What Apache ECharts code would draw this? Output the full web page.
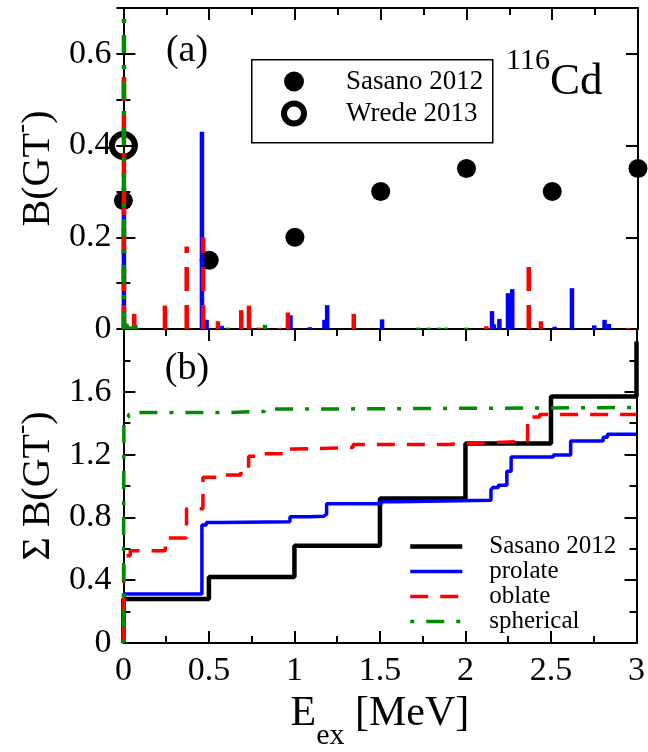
<!DOCTYPE html>
<html><head><meta charset="utf-8">
<script src="https://cdn.jsdelivr.net/npm/echarts@6/dist/echarts.min.js"></script>
<style>html,body{margin:0;padding:0;background:#fff}#c{width:648px;height:752px}</style>
</head><body><div id="c"></div>
<script>
// ---------- Panel (a): experimental B(GT-) ----------
const sasanoE = [0, 0.5, 1, 1.5, 2, 2.5, 3];
const sasanoB = [0.28, 0.15, 0.20, 0.30, 0.35, 0.30, 0.35];
const wredeE = [0];
const wredeB = [0.40];

// ---------- Panel (a): calculated B(GT-) strengths ----------
const prolateE = [0.003, 0.458, 0.485, 0.573, 0.974, 1.087, 1.172, 1.188, 1.508, 2.149, 2.160, 2.192, 2.242, 2.267, 2.514, 2.615, 2.745, 2.805, 2.830];
const prolateB = [0.31, 0.43, 0.02, 0.007, 0.03, 0.004, 0.02, 0.052, 0.021, 0.039, 0.01, 0.022, 0.078, 0.087, 0.005, 0.089, 0.008, 0.02, 0.011];
const oblateE = [0.003, 0.012, 0.063, 0.242, 0.369, 0.465, 0.551, 0.687, 0.732, 0.790, 0.910, 0.959, 1.343, 2.116, 2.363, 2.434, 2.945];
const oblateB = [0.556, 0.012, 0.033, 0.051, 0.18, 0.20, 0.017, 0.041, 0.051, 0.003, 0.002, 0.036, 0.033, 0.006, 0.135, 0.017, 0.002];
const sphericalE = [0.003, 0.02, 0.045, 0.07, 0.608, 0.825, 1.72, 1.78, 1.84, 1.88, 2.0];
const sphericalB = [1.44, 0.01, 0.006, 0.009, 0.003, 0.009, 0.003, 0.003, 0.003, 0.003, 0.003];

// ---------- Panel (b): cumulative sums (step points) ----------
const cumSasanoE = [0, 0, 0.5, 1, 1.5, 2, 2.5, 3];
const cumSasano  = [0, 0.28, 0.42, 0.62, 0.92, 1.27, 1.57, 1.92];
const cumProlateE = [0, 0.003, 0.459, 0.485, 0.573, 0.974, 1.087, 1.172, 1.188, 1.508, 1.60, 2.149, 2.16, 2.192, 2.242, 2.267, 2.514, 2.615, 2.805, 2.83, 3];
const cumProlate  = [0, 0.312, 0.752, 0.768, 0.772, 0.804, 0.808, 0.820, 0.887, 0.90, 0.91, 0.975, 0.99, 1.005, 1.094, 1.184, 1.198, 1.286, 1.31, 1.329, 1.329];
const cumOblateE = [0, 0.003, 0.04, 0.245, 0.369, 0.465, 0.551, 0.687, 0.732, 0.79, 0.959, 1.0, 1.343, 1.9, 2.116, 2.363, 2.434, 3];
const cumOblate  = [0, 0.556, 0.588, 0.669, 0.855, 1.055, 1.07, 1.10, 1.19, 1.205, 1.235, 1.245, 1.265, 1.275, 1.285, 1.44, 1.455, 1.455];
const cumSphericalE = [0, 0.003, 0.03, 0.07, 0.608, 0.825, 1.1, 3];
const cumSpherical  = [0, 1.44, 1.455, 1.468, 1.475, 1.49, 1.50, 1.50];

// ---------- Tick settings ----------
const xTicks = [0, 0.5, 1, 1.5, 2, 2.5, 3];
const yTicksA = [0, 0.2, 0.4, 0.6];
const yTicksB = [0, 0.4, 0.8, 1.2, 1.6];

const FONT = 'Liberation Serif';
const BLUE = '#0000ff', RED = '#ff0000', GREEN = '#008b00', BLACK = '#000000';
const AL = {color: '#000', width: 2};
const zip = (a, b) => a.map((v, i) => [v, b[i]]);

function barSeries(name, E, B, color, dash, z) {
  return {
    type: 'custom', name: name, xAxisIndex: 0, yAxisIndex: 0, z: z,
    data: zip(E, B),
    renderItem: function (params, api) {
      const p0 = api.coord([api.value(0), 0]);
      const p1 = api.coord([api.value(0), api.value(1)]);
      const top = params.coordSys.y;
      return {
        type: 'line',
        shape: {x1: p0[0], y1: p0[1], x2: p1[0], y2: Math.max(p1[1], top)},
        style: {stroke: color, lineWidth: 4.5, lineDash: dash, fill: null}
      };
    }
  };
}
function stepSeries(name, E, V, color, width, type) {
  return {
    type: 'line', name: name, xAxisIndex: 2, yAxisIndex: 4, step: 'end',
    symbol: 'none', showSymbol: false, clip: false,
    data: zip(E, V),
    lineStyle: {color: color, width: width, type: type},
    itemStyle: {color: color}
  };
}

const labelStyle = {color: '#000', fontFamily: FONT, fontSize: 34};
const yNameRich = {
  n: {fontFamily: FONT, fontSize: 40, lineHeight: 40, padding: [10, 0, 0, 0], verticalAlign: 'top', color: '#000'},
  sup: {fontFamily: FONT, fontSize: 28, lineHeight: 28, verticalAlign: 'top', color: '#000'}
};

const chart = echarts.init(document.getElementById('c'), null, {renderer: 'canvas'});
chart.setOption({
  animation: false,
  backgroundColor: '#fff',
  textStyle: {fontFamily: FONT, color: '#000'},
  grid: [
    {left: 122, right: 10, top: 8, height: 321},
    {left: 122, right: 10, top: 329, height: 322}
  ],
  xAxis: [
    {gridIndex: 0, type: 'value', min: xTicks[0], max: xTicks[xTicks.length - 1], interval: 0.5, position: 'bottom',
      axisLine: {show: true, onZero: false, lineStyle: AL}, axisTick: {show: false}, axisLabel: {show: false}, splitLine: {show: false}},
    {gridIndex: 0, type: 'value', min: xTicks[0], max: xTicks[xTicks.length - 1], interval: 0.5, position: 'top',
      axisLine: {show: true, onZero: false, lineStyle: AL},
      axisTick: {show: true, inside: true, length: 12, lineStyle: AL},
      minorTick: {show: true, splitNumber: 2, length: 7, lineStyle: AL},
      axisLabel: {show: false}, splitLine: {show: false}},
    {gridIndex: 1, type: 'value', min: xTicks[0], max: xTicks[xTicks.length - 1], interval: 0.5, position: 'bottom',
      axisLine: {show: true, onZero: false, lineStyle: AL},
      axisTick: {show: true, inside: true, length: 12, lineStyle: AL},
      minorTick: {show: true, splitNumber: 2, length: 7, lineStyle: AL},
      axisLabel: Object.assign({margin: 11}, labelStyle), splitLine: {show: false},
      name: '{n|E}{sub|ex}{n| [MeV]}', nameLocation: 'middle', nameGap: 50,
      nameTextStyle: {rich: {
        n: {fontFamily: FONT, fontSize: 42, lineHeight: 42, verticalAlign: 'top', color: '#000'},
        sub: {fontFamily: FONT, fontSize: 30, lineHeight: 30, padding: [28, 0, 0, 0], verticalAlign: 'top', color: '#000'}
      }}},
    {gridIndex: 1, type: 'value', min: xTicks[0], max: xTicks[xTicks.length - 1], interval: 0.5, position: 'top',
      axisLine: {show: true, onZero: false, lineStyle: AL},
      axisTick: {show: true, inside: true, length: 12, lineStyle: AL},
      minorTick: {show: true, splitNumber: 2, length: 7, lineStyle: AL},
      axisLabel: {show: false}, splitLine: {show: false}}
  ],
  yAxis: [
    {gridIndex: 0, type: 'value', min: yTicksA[0], max: 0.7, interval: 0.2, position: 'left',
      axisLine: {show: true, onZero: false, lineStyle: AL},
      axisTick: {show: true, inside: true, length: 12, lineStyle: AL},
      axisLabel: Object.assign({margin: 12, showMaxLabel: false}, labelStyle), splitLine: {show: false},
      name: '{n|B(GT}{sup|-}{n|)}', nameLocation: 'middle', nameRotate: 90, nameGap: 71,
      nameTextStyle: {rich: yNameRich}},
    {gridIndex: 0, type: 'value', min: 0, max: 0.7, interval: 0.1, position: 'left',
      axisLine: {show: false}, axisTick: {show: true, inside: true, length: 7, lineStyle: AL},
      axisLabel: {show: false}, splitLine: {show: false}},
    {gridIndex: 0, type: 'value', min: 0, max: 0.7, interval: 0.2, position: 'right',
      axisLine: {show: true, onZero: false, lineStyle: AL},
      axisTick: {show: true, inside: true, length: 12, lineStyle: AL},
      axisLabel: {show: false}, splitLine: {show: false}},
    {gridIndex: 0, type: 'value', min: 0, max: 0.7, interval: 0.1, position: 'right',
      axisLine: {show: false}, axisTick: {show: true, inside: true, length: 7, lineStyle: AL},
      axisLabel: {show: false}, splitLine: {show: false}},
    {gridIndex: 1, type: 'value', min: yTicksB[0], max: 2, interval: 0.4, position: 'left',
      axisLine: {show: true, onZero: false, lineStyle: AL},
      axisTick: {show: true, inside: true, length: 12, lineStyle: AL},
      minorTick: {show: true, splitNumber: 2, length: 7, lineStyle: AL},
      axisLabel: Object.assign({margin: 12, showMaxLabel: false}, labelStyle), splitLine: {show: false},
      name: '{n|Σ B(GT}{sup|-}{n|)}', nameLocation: 'middle', nameRotate: 90, nameGap: 71,
      nameTextStyle: {rich: yNameRich}},
    {gridIndex: 1, type: 'value', min: 0, max: 2, interval: 0.4, position: 'right',
      axisLine: {show: true, onZero: false, lineStyle: AL},
      axisTick: {show: true, inside: true, length: 12, lineStyle: AL},
      minorTick: {show: true, splitNumber: 2, length: 7, lineStyle: AL},
      axisLabel: {show: false}, splitLine: {show: false}}
  ],
  legend: [
    {data: [
        {name: 'Sasano 2012'},
        {name: 'Wrede 2013', itemStyle: {color: 'rgba(255,255,255,0)', borderColor: '#000', borderWidth: 6}}
      ],
      orient: 'vertical', left: 281, top: 68, z: 6,
      padding: 0, itemWidth: 20, itemHeight: 20, itemGap: 5, selectedMode: false,
      textStyle: {padding: [0, 0, 0, 37], fontFamily: FONT, fontSize: 27, lineHeight: 27, color: '#000'}},
    {data: ['Sasano 2012 (cum)', 'prolate', 'oblate', 'spherical'], orient: 'vertical', left: 408, top: 534,
      padding: 0, itemWidth: 52, itemHeight: 14, itemGap: 0, selectedMode: false,
      formatter: n => (n === 'Sasano 2012 (cum)' ? 'Sasano 2012' : n),
      lineStyle: {width: 'inherit'},
      itemStyle: {opacity: 0},
      textStyle: {padding: [0, 0, 0, 22], fontFamily: FONT, fontSize: 25, lineHeight: 20, color: '#000'}}
  ],
  graphic: [
    {type: 'rect', left: 251, top: 59, z: 5, shape: {width: 241, height: 83},
      style: {fill: '#fff', stroke: '#000', lineWidth: 1.5}},
    {type: 'text', x: 187, y: 51, z: 10, style: {text: '(a)', font: '38px "Liberation Serif"', fill: '#000', textAlign: 'center', textVerticalAlign: 'middle'}},
    {type: 'text', x: 187, y: 369, z: 10, style: {text: '(b)', font: '38px "Liberation Serif"', fill: '#000', textAlign: 'center', textVerticalAlign: 'middle'}},
    {type: 'text', x: 506, y: 46, z: 10, style: {text: '{s|116}{c|Cd}', textAlign: 'left', textVerticalAlign: 'top',
      rich: {
        s: {fontFamily: FONT, fontSize: 30, lineHeight: 30, verticalAlign: 'top', fill: '#000'},
        c: {fontFamily: FONT, fontSize: 45, lineHeight: 45, padding: [14, 0, 0, 0], verticalAlign: 'top', fill: '#000'}
      }}}
  ],
  series: [
    {type: 'scatter', name: 'Sasano 2012', xAxisIndex: 0, yAxisIndex: 0, z: 2, clip: false,
      symbol: 'circle', symbolSize: 19, data: zip(sasanoE, sasanoB), itemStyle: {color: '#000', opacity: 1}},
    {type: 'scatter', name: 'Wrede 2013', xAxisIndex: 0, yAxisIndex: 0, z: 2, clip: false,
      symbol: 'circle', symbolSize: 23, data: zip(wredeE, wredeB),
      itemStyle: {color: 'rgba(255,255,255,0)', borderColor: '#000', borderWidth: 6, opacity: 1}},
    barSeries('prolate bars', prolateE, prolateB, BLUE, null, 3),
    barSeries('oblate bars', oblateE, oblateB, RED, [24, 14], 4),
    barSeries('spherical bars', sphericalE, sphericalB, GREEN, [18, 12, 4, 12], 5),
    stepSeries('Sasano 2012 (cum)', cumSasanoE, cumSasano, BLACK, 4.5, 'solid'),
    stepSeries('prolate', cumProlateE, cumProlate, BLUE, 3.5, 'solid'),
    stepSeries('oblate', cumOblateE, cumOblate, RED, 3.5, [18, 12]),
    stepSeries('spherical', cumSphericalE, cumSpherical, GREEN, 3.5, [4, 12, 18, 12])
  ]
});
</script>
</body></html>
